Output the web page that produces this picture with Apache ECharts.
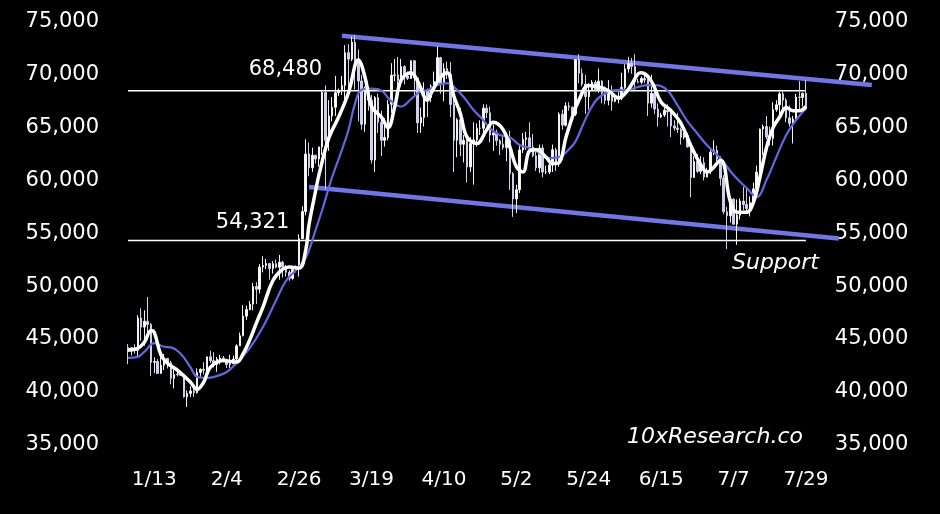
<!DOCTYPE html>
<html>
<head>
<meta charset="utf-8">
<script src="https://cdn.jsdelivr.net/npm/echarts@6/dist/echarts.min.js"></script>
<style>
html,body{margin:0;padding:0;background:#000;}
#chart{width:940px;height:514px;}
</style>
</head>
<body>
<div id="chart"></div>
<script>
// ---- Data ----
// Daily candles 1/5 .. 7/29 (2024)
const dayOpen = [
44180,44160,43970,43930,46970,46120,46660,46350,42780,42850,41730,42510,43150,42740,41260,41620,41660,41550,39510,39840,40070,39900,41820,42120,42030,43300,42940,
42580,43080,43190,43000,42580,42660,43090,44340,45290,47150,47770,48290,49960,49700,51800,51940,52130,51660,52120,51780,52260,51840,51300,50730,51570,51730,54490,57050,62500,
61200,62390,62030,63170,68330,63800,66110,66930,68300,68500,69000,72100,71480,73080,71390,69420,65320,68420,67600,61940,67840,65500,63800,64060,67210,69960,69990,69450,70780,69890,69650,
71330,69700,65450,65970,68500,67840,68900,69360,71620,69140,70590,70060,67200,63800,65740,63430,63800,61280,63500,63840,64940,64940,66840,66400,64300,64500,63760,63420,63110,63840,
60640,58250,59120,62890,63890,64030,63160,62330,61190,63070,60790,60800,61450,62900,61550,66270,65230,67050,66940,66280,71450,70140,69120,67930,68530,69290,68500,69400,68300,67590,68350,
67490,67700,67760,68800,70560,71080,70790,69350,69300,69650,69500,67320,68240,66760,66010,66190,66640,66490,65160,64960,64830,64100,64250,63180,60280,61800,60860,61670,60320,60890,
62680,62850,62030,60200,57030,56650,58230,55850,56710,58050,57720,57340,57890,59200,60790,64870,65100,64120,63980,66700,67160,68200,67600,65930,65400,65800,67900,67850,68250
];
const dayClose = [
44160,43970,43930,46970,46120,46660,46350,42780,42850,41730,42510,43150,42740,41260,41620,41660,41550,39510,39840,40070,39900,41820,42120,42030,43300,42940,42580,
43080,43190,43000,42580,42660,43090,44340,45290,47150,47770,48290,49960,49700,51800,51940,52130,51660,52120,51780,52260,51840,51300,50730,51570,51730,54490,57050,62500,61200,
62390,62030,63170,68330,63800,66110,66930,68300,68500,69000,72100,71480,73080,71390,69420,65320,68420,67600,61940,67840,65500,63800,64060,67210,69960,69990,69450,70780,69890,69650,71330,
69700,65450,65970,68500,67840,68900,69360,71620,69140,70590,70060,67200,63800,65740,63430,63800,61280,63500,63840,64940,64940,66840,66400,64300,64500,63760,63420,63110,63840,60640,
58250,59120,62890,63890,64030,63160,62330,61190,63070,60790,60800,61450,62900,61550,66270,65230,67050,66940,66280,71450,70140,69120,67930,68530,69290,68500,69400,68300,67590,68350,67490,
67700,67760,68800,70560,71080,70790,69350,69300,69650,69500,67320,68240,66760,66010,66190,66640,66490,65160,64960,64830,64100,64250,63180,60280,61800,60860,61670,60320,60890,62680,
62850,62030,60200,57030,56650,58230,55850,56710,58050,57720,57340,57890,59200,60790,64870,65100,64120,63980,66700,67160,68200,67600,65930,65400,65800,67900,67850,68250,66800
];
const dayLow = [
42600,43420,43600,43200,44800,44350,45600,41500,41750,41720,41700,42050,42200,40700,40300,41450,41500,39430,38550,39500,39500,39820,41400,41630,41800,42700,42300,
41880,42580,42890,42250,42250,42600,42790,44330,45240,46800,47700,47700,48300,49300,51300,51600,50600,51170,51700,50600,50800,50900,50500,50600,51300,50900,54450,56700,60400,
60800,61600,61300,62400,59200,62800,65600,66100,68000,68100,67200,68800,71300,68600,65600,64800,64600,66600,61600,60800,64500,62300,63200,63800,66400,69400,68400,68900,69100,69500,69600,
68100,64500,64500,65100,66000,67400,68800,69100,68200,67500,69600,66000,60800,62200,62300,61700,59800,60800,59600,63200,64300,64500,65900,63600,62800,63300,62400,62900,61800,59100,
56550,56900,58800,62600,62900,62800,62200,60900,60700,60300,60600,60600,60800,60900,61300,64800,65100,66600,65900,66100,69200,68900,66300,66700,68500,68400,68300,67300,67200,67100,66600,
67400,67300,67600,68500,70200,70100,68500,69200,69100,69200,66100,66900,66300,65100,65900,66000,65100,64100,64700,64500,63400,63900,63100,58400,60300,60700,60600,60000,60300,60600,
62400,61800,59500,56800,53500,56000,55800,53900,56300,57200,57000,56600,57800,59300,60700,62400,63900,63300,63300,66500,65900,66600,65500,65100,63500,65800,66700,67000,66600
];
const dayHigh = [
44500,44230,44500,47250,47900,47700,48970,46500,43250,43080,43400,43580,43200,42930,42200,41870,41880,41650,40130,40500,40300,42200,42200,42800,43300,43880,43740,
43290,43480,43380,43120,43500,43400,44500,45600,48200,48150,48600,50300,50370,52080,52820,52570,52200,52370,52500,52950,52370,52000,51500,51700,51950,54900,57550,63900,63600,
63100,62400,63200,68500,69000,67600,67900,69900,68700,69900,72800,72900,73650,73780,72400,70000,68900,68900,68100,68000,68200,66600,65900,67600,71100,71500,71700,71500,70900,70300,71350,
71400,69700,66900,69300,68700,69100,70300,72700,71700,71100,71250,71200,67900,65900,66900,64300,64500,64100,65500,65400,65700,67200,67200,67000,65300,64800,63900,64300,64200,64700,
60800,59600,63300,64500,64600,65500,64400,62900,63400,63400,61400,61800,63400,63100,66450,66700,67400,67400,67000,71500,71950,70600,70000,69200,69500,69500,70600,69500,68900,69500,69000,
67900,68400,70200,71000,71700,71600,71950,69600,69850,70100,69600,70000,68400,67300,66400,66900,67200,66500,65700,66400,65000,64500,64500,63400,62300,62500,62300,62200,61200,62900,
63800,63300,62300,60500,57500,58500,58300,58200,58300,59400,59300,58500,59800,61400,64900,65300,66100,65100,67400,67600,68400,68500,67800,67100,66100,68200,69400,68300,69500
];
// Fast (white) moving average
const maFast = [
['1/5',43950],['1/8',44100],['1/10',44700],['1/12',45800],['1/13',45600],['1/15',43500],['1/17',42700],['1/20',42050],['1/24',40900],['1/26',40200],['1/28',40900],['1/30',42300],
['2/3',42950],['2/7',42800],['2/9',43600],['2/11',44900],['2/13',46500],['2/15',48000],['2/18',50500],['2/21',51600],['2/23',51800],['2/26',51700],['2/28',53400],['2/29',55800],
['3/2',59000],['3/3',60500],['3/6',64000],['3/9',66000],['3/12',68300],['3/15',71400],['3/17',69800],['3/19',67000],['3/22',66000],['3/24',65000],['3/26',66900],['3/28',69500],['3/31',70200],
['4/2',69400],['4/5',67600],['4/6',68200],['4/9',69800],['4/11',70200],['4/13',68000],['4/15',66300],['4/17',64100],['4/20',63500],['4/23',64800],['4/25',65500],['4/28',64800],['4/30',63200],
['5/2',61300],['5/4',60800],['5/6',62800],['5/8',62900],['5/11',62200],['5/13',61600],['5/15',61700],['5/17',64000],['5/19',66000],['5/21',67600],['5/24',69000],['5/27',68850],['5/30',68500],
['6/2',67800],['6/5',68600],['6/8',70100],['6/9',70200],['6/12',69400],['6/15',67400],['6/18',66600],['6/21',65400],['6/24',63300],['6/27',61500],['6/29',60800],
['7/3',61900],['7/6',58000],['7/8',57000],['7/11',57000],['7/13',57900],['7/15',60300],['7/17',63100],['7/19',65000],['7/21',66000],['7/23',66900],['7/25',66600],['7/27',66600],['7/29',67000]
];
// Slow (blue) moving average
const maSlow = [
['1/5',43200],['1/8',43300],['1/10',43800],['1/13',44600],['1/16',44250],['1/18',44200],['1/21',43600],['1/24',42300],['1/26',41400],['1/29',41300],
['2/1',41480],['2/4',41860],['2/7',42710],['2/11',44130],['2/15',46120],['2/19',48650],['2/22',50500],['2/25',51500],['2/28',52650],
['3/2',55300],['3/4',57200],['3/7',60300],['3/10',62900],['3/12',64800],['3/14',67300],['3/16',68600],['3/19',68700],['3/22',68500],['3/25',67500],['3/28',67000],['3/31',67700],
['4/3',68450],['4/5',68560],['4/8',69030],['4/11',69220],['4/13',68850],['4/16',67900],['4/19',66670],['4/22',65700],['4/24',64900],['4/27',64300],['4/30',64100],
['5/3',63350],['5/6',63070],['5/9',62600],['5/12',62120],['5/15',62220],['5/18',62950],['5/20',63700],['5/23',65800],['5/26',67500],['5/29',68250],
['6/1',68560],['6/5',68600],['6/8',68850],['6/11',69030],['6/14',69000],['6/17',68500],['6/20',67100],['6/23',65600],['6/26',64450],['6/29',63300],
['7/3',62100],['7/7',60510],['7/11',59280],['7/14',58430],['7/17',60040],['7/20',62220],['7/23',64300],['7/26',65720],['7/29',66800]
];
// Levels and channel
const levelHigh = 68480;
const levelLow = 54321;
const levelSpan = ['1/5', '7/29'];
const channelTop = [['3/10', 73700], ['8/18', 69035]];
const channelBottom = [['2/29', 59380], ['8/8', 54500]];
const tickLabels = ['1/13','2/4','2/26','3/19','4/10','5/2','5/24','6/15','7/7','7/29'];
const yTicks = { min: 35000, max: 75000, step: 5000 };

// categories: daily dates 1/5 .. 8/18 (2024)
const categories = [];
for (let i = 0; i < 227; i++) {
  const d = new Date(2024, 0, 5 + i);
  categories.push((d.getMonth() + 1) + '/' + d.getDate());
}
const candles = dayOpen.map((o, i) => [o, dayClose[i], dayLow[i], dayHigh[i]]);

const FONT = 'DejaVu Sans';
const fmt = v => v.toLocaleString('en-US');
const chart = echarts.init(document.getElementById('chart'));
const yAxisBase = {
  type: 'value', min: yTicks.min, max: yTicks.max, interval: yTicks.step,
  splitLine: { show: false }, axisLine: { show: false }, axisTick: { show: false },
  axisLabel: { color: '#fff', fontFamily: FONT, fontSize: 21, margin: 29, formatter: fmt, padding: [0, 0, 3, 0] }
};
chart.setOption({
  animation: false,
  backgroundColor: '#000',
  grid: { left: 128, top: 22, width: 743.8, height: 422.5 },
  xAxis: {
    type: 'category', data: categories, boundaryGap: false,
    axisLine: { show: false }, axisTick: { show: false }, splitLine: { show: false },
    axisLabel: {
      color: '#fff', fontFamily: FONT, fontSize: 20, margin: 25,
      interval: (idx, val) => tickLabels.indexOf(val) >= 0
    }
  },
  yAxis: [
    Object.assign({}, yAxisBase, { position: 'left' }),
    Object.assign({}, yAxisBase, { position: 'right', offset: -66 })
  ],
  series: [
    {
      type: 'line', name: 'level high', data: [[levelSpan[0], levelHigh], [levelSpan[1], levelHigh]],
      symbol: 'none', lineStyle: { color: '#fff', width: 1.5 }, z: 1,
      markPoint: {
        symbol: 'circle', symbolSize: 0, silent: true,
        label: { show: true, position: 'left', distance: 0, color: '#fff', fontFamily: FONT, fontSize: 21 },
        data: [{ coord: ['3/4', levelHigh], value: levelHigh, label: { formatter: fmt(levelHigh), offset: [0, -21] } }]
      }
    },
    {
      type: 'line', name: 'level low', data: [[levelSpan[0], levelLow], [levelSpan[1], levelLow]],
      symbol: 'none', lineStyle: { color: '#fff', width: 1.5 }, z: 1,
      markPoint: {
        symbol: 'circle', symbolSize: 0, silent: true,
        label: { show: true, position: 'left', distance: 0, color: '#fff', fontFamily: FONT, fontSize: 21 },
        data: [{ coord: ['2/23', levelLow], value: levelLow, label: { formatter: fmt(levelLow), offset: [0, -18] } }]
      }
    },
    { type: 'line', name: 'channel top', data: channelTop, symbol: 'none', lineStyle: { color: '#7276e4', width: 4.5 }, z: 2 },
    { type: 'line', name: 'channel bottom', data: channelBottom, symbol: 'none', lineStyle: { color: '#7276e4', width: 4.5 }, z: 2 },
    {
      type: 'candlestick', name: 'BTC', data: candles, barWidth: 2, z: 3,
      itemStyle: { color: '#ffffff', color0: '#cfd0f0', borderColor: '#f2f2f2', borderColor0: '#d0d0e8', borderWidth: 1 }
    },
    { type: 'line', name: 'MA slow', data: maSlow, symbol: 'none', smooth: 0.4, lineStyle: { color: '#6367de', width: 2.2 }, z: 4 },
    { type: 'line', name: 'MA fast', data: maFast, symbol: 'none', smooth: 0.4, lineStyle: { color: '#ffffff', width: 3.5 }, z: 5 }
  ],
  graphic: [
    { type: 'text', x: 732, y: 263, style: { text: 'Support', fill: '#fff', fontFamily: FONT, fontStyle: 'italic', fontSize: 22, verticalAlign: 'middle' } },
    { type: 'text', x: 627, y: 437, style: { text: '10xResearch.co', fill: '#fff', fontFamily: FONT, fontStyle: 'italic', fontSize: 22, verticalAlign: 'middle' } }
  ]
});
</script>
</body>
</html>
